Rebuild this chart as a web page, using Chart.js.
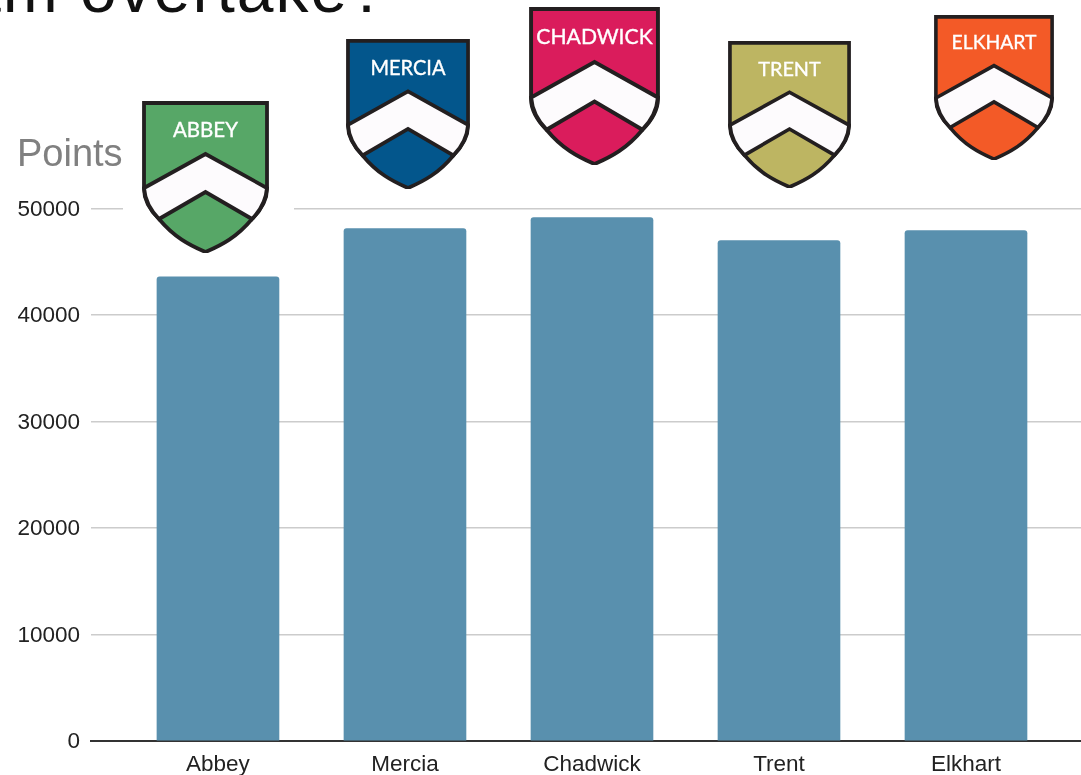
<!DOCTYPE html>
<html>
<head>
<meta charset="utf-8">
<title>Points by team</title>
<script src="https://cdn.jsdelivr.net/npm/chart.js@4"></script>
<style>
    body { margin: 0; background: #fff; overflow: hidden; }
    #wrap { position: relative; width: 1081px; height: 775px; overflow: hidden; }
    #chart { position: absolute; left: 0; top: 0; }
    #heading {
        position: absolute; left: -95px; top: -48px; white-space: nowrap; letter-spacing: 2px;
        font: 66px/1.15 "Liberation Sans", Arial, sans-serif; color: #111;
    }
    #shields { position: absolute; left: 0; top: 0; }
</style>
</head>
<body>
<div id="wrap">
    <canvas id="chart" width="1081" height="775"></canvas>
    <div id="heading">team overtake?</div>
    <svg id="shields" width="1081" height="775" xmlns="http://www.w3.org/2000/svg"></svg>
</div>
<script>
const categories = ['Abbey', 'Mercia', 'Chadwick', 'Trent', 'Elkhart'];
const points = [43600, 48120, 49150, 47000, 47930];
const tickLabels = [0, 10000, 20000, 30000, 40000, 50000];

const shieldNames = ['ABBEY', 'MERCIA', 'CHADWICK', 'TRENT', 'ELKHART'];
const shieldColors = ['#57a767', '#03568c', '#da1c5c', '#bdb562', '#f35a27'];
// left, top, width, height of each crest in page pixels
const shieldBoxes = [
    [142, 101, 127, 152],
    [346, 39, 124, 150],
    [529, 7, 131, 158],
    [728, 41, 123, 147],
    [934, 15, 120, 145]
];

const textColor = '#222222';
const labelFont = { family: '"Liberation Sans", Arial, sans-serif', size: 22.5 };

// Crests sit on top of the chart, the first one on a white patch that hides the 50000 line
const svg = document.getElementById('shields');
let markup = '<rect x="123" y="196" width="171" height="26" fill="#ffffff"/>';
shieldBoxes.forEach((box, i) => {
    markup += `<svg x="${box[0]}" y="${box[1]}" width="${box[2]}" height="${box[3]}" viewBox="0 0 127 152" preserveAspectRatio="none">
        <path d="M2,2 H125 V88 C125,100 118,110 110,118 C95,136 80,144 63.5,151 C47,144 32,136 17,118 C9,110 2,100 2,88 Z"
            fill="${shieldColors[i]}" stroke="#231f20" stroke-width="3.8"/>
        <path d="M2,87 L63.5,53 L125,87 C124,100 118,110 110,118 L63.5,91 L17,118 C9,110 3,100 2,87 Z"
            fill="#fdfbfd" stroke="#231f20" stroke-width="3.8" stroke-linejoin="miter"/>
        <text x="63.5" y="36" text-anchor="middle" fill="#ffffff" stroke="#ffffff" stroke-width="0.35"
            font-family="Lato, sans-serif" font-weight="400" font-size="20.5">${shieldNames[i]}</text>
    </svg>`;
});
svg.innerHTML = markup;

// Linear x axis so the grid can run past the outer bars on both sides
const chartCtx = document.getElementById('chart');
new Chart(chartCtx, {
    type: 'bar',
    data: {
        datasets: [{
            data: points.map((p, i) => ({ x: i, y: p })),
            backgroundColor: '#5990ae',
            barThickness: 122,
            borderRadius: { topLeft: 3, topRight: 3, bottomLeft: 0, bottomRight: 0 },
            borderSkipped: false
        }]
    },
    options: {
        responsive: false,
        animation: false,
        layout: { padding: { left: 17, right: 0, top: 0, bottom: 0 } },
        plugins: {
            legend: { display: false },
            tooltip: { enabled: false },
            title: {
                display: true,
                text: 'Points',
                align: 'start',
                color: '#808080',
                font: { family: labelFont.family, size: 38, weight: 'normal' },
                padding: { top: 133, bottom: 30 }
            }
        },
        scales: {
            x: {
                type: 'linear',
                offset: false,
                min: -0.679,
                max: 4.615,
                afterBuildTicks: function(scale) {
                    scale.ticks = categories.map((c, i) => ({ value: i }));
                },
                afterFit: function(scale) {
                    scale.height = 34;
                },
                ticks: {
                    autoSkip: false,
                    maxRotation: 0,
                    color: textColor,
                    font: labelFont,
                    padding: 2,
                    callback: function(value) {
                        return categories[value];
                    }
                },
                grid: { display: false },
                border: { display: true, color: '#333333', width: 2 }
            },
            y: {
                min: 0,
                max: 50000,
                afterBuildTicks: function(scale) {
                    scale.ticks = tickLabels.map(v => ({ value: v }));
                },
                afterFit: function(scale) {
                    scale.width = 74;
                },
                ticks: {
                    color: textColor,
                    font: labelFont,
                    padding: 11,
                    labelOffset: 1,
                    callback: function(value) {
                        return String(value);
                    }
                },
                grid: { color: '#cccccc', lineWidth: 1.5, drawTicks: false },
                border: { display: false }
            }
        }
    }
});
</script>
</body>
</html>
